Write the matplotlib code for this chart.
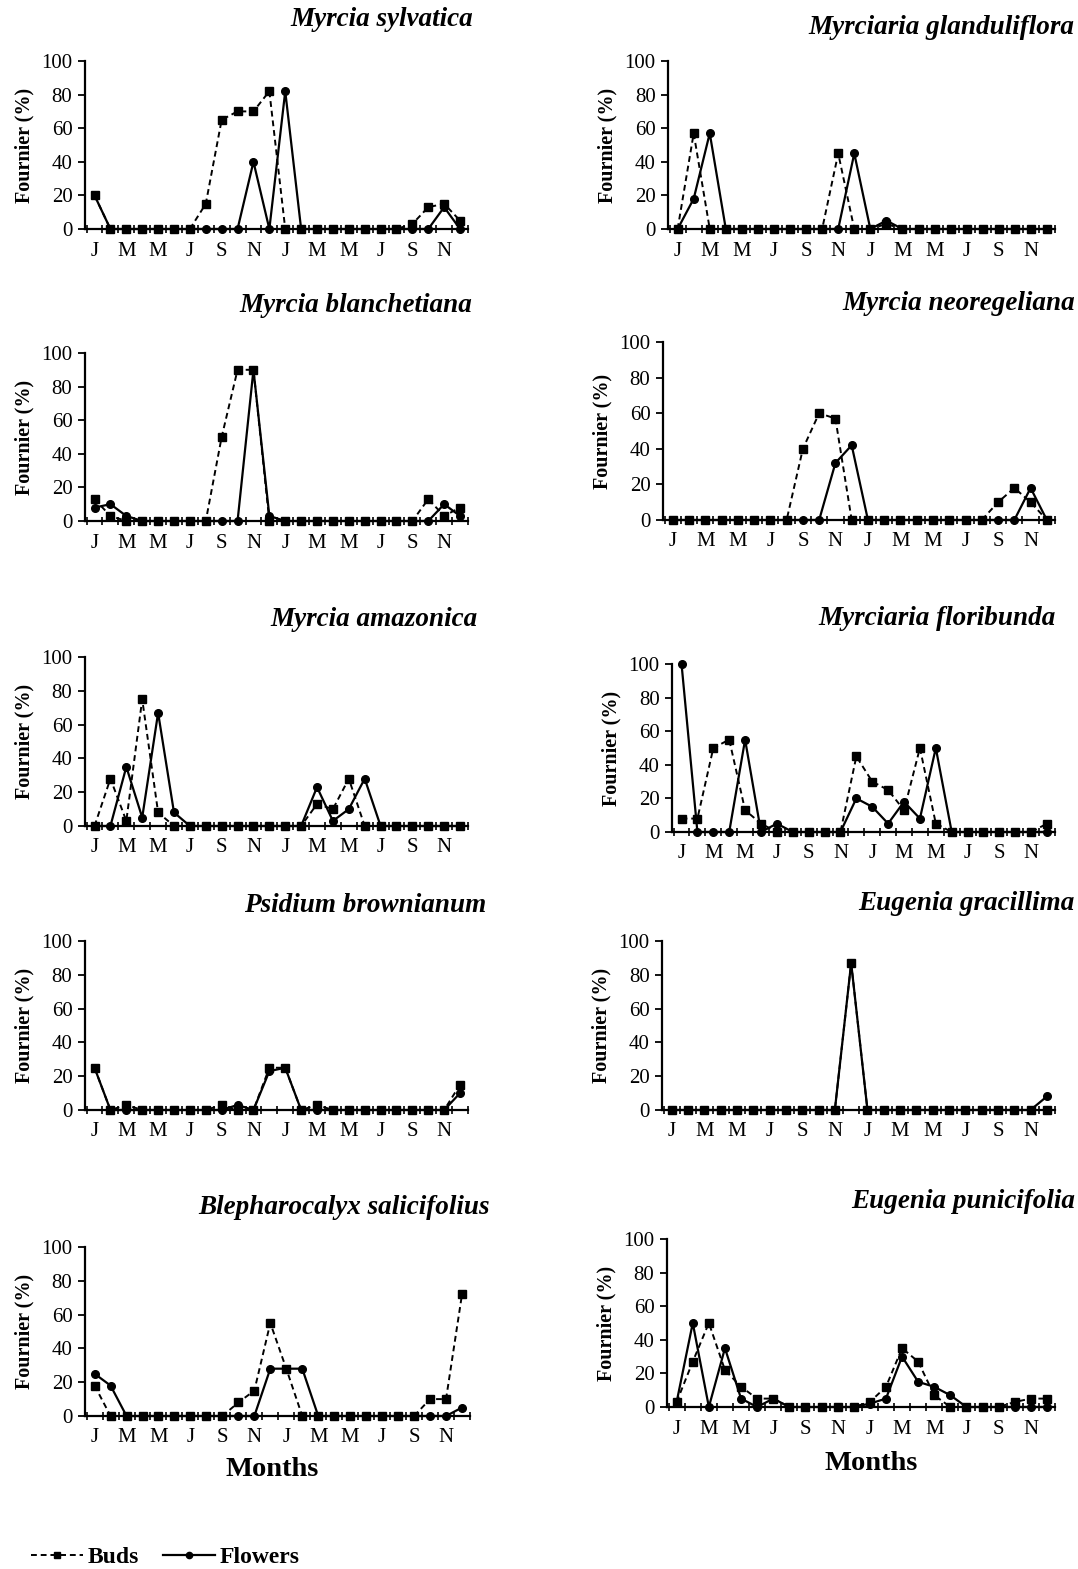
import matplotlib
matplotlib.use('Agg')
import matplotlib.pyplot as plt
from matplotlib.lines import Line2D
import numpy as np

plt.rcParams['font.family'] = ['Liberation Serif', 'DejaVu Serif']

# month tick labels (every second month, two years)
month_labels = ['J', 'M', 'M', 'J', 'S', 'N'] * 2

# Fournier (%) per month, Jan year 1 .. Dec year 2
sylvatica_buds = [20, 0, 0, 0, 0, 0, 0, 15, 65, 70, 70, 82, 0, 0, 0, 0, 0, 0, 0, 0, 3, 13, 15, 5]
sylvatica_flowers = [20, 0, 0, 0, 0, 0, 0, 0, 0, 0, 40, 0, 82, 0, 0, 0, 0, 0, 0, 0, 0, 0, 13, 0]

glanduliflora_buds = [0, 57, 0, 0, 0, 0, 0, 0, 0, 0, 45, 0, 0, 3, 0, 0, 0, 0, 0, 0, 0, 0, 0, 0]
glanduliflora_flowers = [0, 18, 57, 0, 0, 0, 0, 0, 0, 0, 0, 45, 0, 5, 0, 0, 0, 0, 0, 0, 0, 0, 0, 0]

blanchetiana_buds = [13, 3, 0, 0, 0, 0, 0, 0, 50, 90, 90, 0, 0, 0, 0, 0, 0, 0, 0, 0, 0, 13, 3, 8]
blanchetiana_flowers = [8, 10, 3, 0, 0, 0, 0, 0, 0, 0, 90, 3, 0, 0, 0, 0, 0, 0, 0, 0, 0, 0, 10, 3]

neoregeliana_buds = [0, 0, 0, 0, 0, 0, 0, 0, 40, 60, 57, 0, 0, 0, 0, 0, 0, 0, 0, 0, 10, 18, 10, 0]
neoregeliana_flowers = [0, 0, 0, 0, 0, 0, 0, 0, 0, 0, 32, 42, 0, 0, 0, 0, 0, 0, 0, 0, 0, 0, 18, 0]

amazonica_buds = [0, 28, 3, 75, 8, 0, 0, 0, 0, 0, 0, 0, 0, 0, 13, 10, 28, 0, 0, 0, 0, 0, 0, 0]
amazonica_flowers = [0, 0, 35, 5, 67, 8, 0, 0, 0, 0, 0, 0, 0, 0, 23, 3, 10, 28, 0, 0, 0, 0, 0, 0]

floribunda_buds = [8, 8, 50, 55, 13, 5, 0, 0, 0, 0, 0, 45, 30, 25, 13, 50, 5, 0, 0, 0, 0, 0, 0, 5]
floribunda_flowers = [100, 0, 0, 0, 55, 0, 5, 0, 0, 0, 0, 20, 15, 5, 18, 8, 50, 0, 0, 0, 0, 0, 0, 0]

brownianum_buds = [25, 0, 3, 0, 0, 0, 0, 0, 3, 0, 0, 25, 25, 0, 3, 0, 0, 0, 0, 0, 0, 0, 0, 15]
brownianum_flowers = [25, 0, 0, 0, 0, 0, 0, 0, 0, 3, 0, 23, 25, 0, 0, 0, 0, 0, 0, 0, 0, 0, 0, 10]

gracillima_buds = [0, 0, 0, 0, 0, 0, 0, 0, 0, 0, 0, 87, 0, 0, 0, 0, 0, 0, 0, 0, 0, 0, 0, 0]
gracillima_flowers = [0, 0, 0, 0, 0, 0, 0, 0, 0, 0, 0, 87, 0, 0, 0, 0, 0, 0, 0, 0, 0, 0, 0, 8]

salicifolius_buds = [18, 0, 0, 0, 0, 0, 0, 0, 0, 8, 15, 55, 28, 0, 0, 0, 0, 0, 0, 0, 0, 10, 10, 72]
salicifolius_flowers = [25, 18, 0, 0, 0, 0, 0, 0, 0, 0, 0, 28, 28, 28, 0, 0, 0, 0, 0, 0, 0, 0, 0, 5]

punicifolia_buds = [3, 27, 50, 22, 12, 5, 5, 0, 0, 0, 0, 0, 3, 12, 35, 27, 7, 0, 0, 0, 0, 3, 5, 5]
punicifolia_flowers = [3, 50, 0, 35, 5, 0, 5, 0, 0, 0, 0, 0, 2, 5, 30, 15, 12, 7, 0, 0, 0, 0, 0, 0]

W, H = 1078, 1569
fig = plt.figure(figsize=(W / 100, H / 100), dpi=100)

BUD_DASH = (0, (3, 2))


def panel(rect, title, title_right, title_y, buds, flowers):
    left, top, right, bottom = rect
    ax = fig.add_axes([left / W, 1 - bottom / H, (right - left) / W, (bottom - top) / H])
    x = np.arange(len(buds))
    ax.plot(x, flowers, color='black', lw=1.6, marker='o', ms=5.5, zorder=3, clip_on=False)
    ax.plot(x, buds, color='black', lw=1.4, ls=BUD_DASH, marker='s', ms=5.5, zorder=4, clip_on=False)
    ax.set_xlim(-0.6, 23.5)
    ax.set_ylim(0, 100)
    for s in ['top', 'right']:
        ax.spines[s].set_visible(False)
    for s in ['left', 'bottom']:
        ax.spines[s].set_linewidth(1.6)
    ax.set_yticks(range(0, 101, 20))
    ax.set_xticks(range(0, 24, 2))
    ax.set_xticklabels(month_labels)
    ax.set_xticks(np.arange(-0.5, 23.6, 1), minor=True)
    ax.tick_params(axis='x', which='major', length=0, pad=9, labelsize=15)
    ax.tick_params(axis='x', which='minor', direction='inout', length=6, width=1.2)
    ax.tick_params(axis='y', direction='out', length=5, width=1.3, labelsize=15, pad=4)
    ax.set_ylabel('Fournier (%)', fontweight='bold', fontsize=14.5, labelpad=5)
    fig.text(title_right / W, 1 - title_y / H, title, ha='right', va='center',
             fontsize=19.5, fontweight='bold', style='italic')
    return ax


panel((85, 61, 468, 229), 'Myrcia sylvatica', 473, 20, sylvatica_buds, sylvatica_flowers)
panel((668, 61, 1055, 229), 'Myrciaria glanduliflora', 1074, 28, glanduliflora_buds, glanduliflora_flowers)
panel((85, 353, 468, 521), 'Myrcia blanchetiana', 472, 305, blanchetiana_buds, blanchetiana_flowers)
panel((663, 342, 1055, 520), 'Myrcia neoregeliana', 1075, 303, neoregeliana_buds, neoregeliana_flowers)
panel((85, 657, 468, 826), 'Myrcia amazonica', 478, 619, amazonica_buds, amazonica_flowers)
panel((672, 664, 1055, 832), 'Myrciaria floribunda', 1056, 618, floribunda_buds, floribunda_flowers)
panel((85, 941, 468, 1110), 'Psidium brownianum', 486, 906, brownianum_buds, brownianum_flowers)
panel((662, 941, 1055, 1110), 'Eugenia gracillima', 1075, 904, gracillima_buds, gracillima_flowers)
panel((85, 1247, 470, 1416), 'Blepharocalyx salicifolius', 490, 1207, salicifolius_buds, salicifolius_flowers)
panel((667, 1239, 1055, 1407), 'Eugenia punicifolia', 1075, 1201, punicifolia_buds, punicifolia_flowers)

fig.text(272 / W, 1 - 1470 / H, 'Months', ha='center', va='center', fontsize=20.5, fontweight='bold')
fig.text(871 / W, 1 - 1464 / H, 'Months', ha='center', va='center', fontsize=20.5, fontweight='bold')

# legend at the bottom
handles = [Line2D([], [], color='black', lw=1.4, ls=BUD_DASH, marker='s', ms=4.5),
           Line2D([], [], color='black', lw=1.6, marker='o', ms=4.5)]
fig.legend(handles, ['Buds', 'Flowers'], loc='center left',
           bbox_to_anchor=(31 / W, 1 - 1557 / H), ncol=2, frameon=False,
           prop={'weight': 'bold', 'size': 17}, handlelength=2.2,
           handletextpad=0.2, columnspacing=1.0, borderaxespad=0, borderpad=0)

fig.savefig('out.png', dpi=100)
